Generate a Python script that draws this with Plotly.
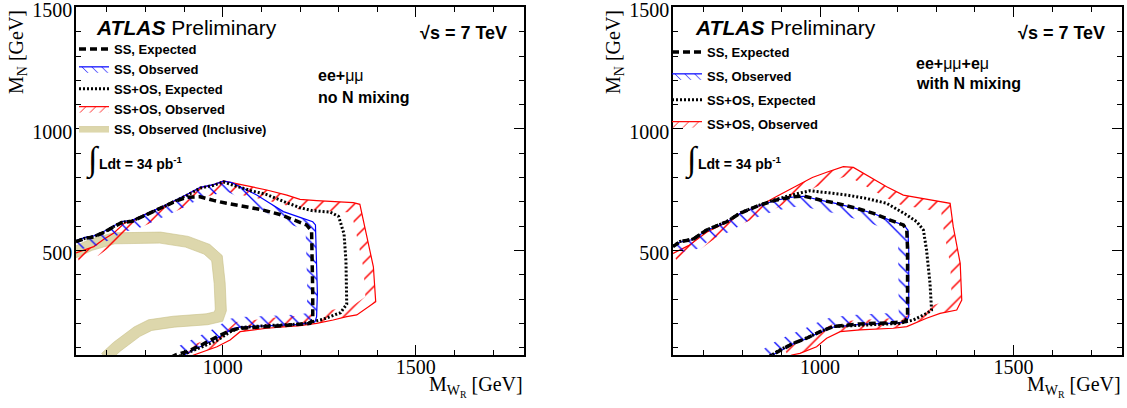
import numpy as np
import plotly.graph_objects as go

FIG_W, FIG_H = 1127, 408
X_RANGE = [620, 1780]
Y_RANGE = [70, 1500.5]
X_TICKS = [1000, 1500]
Y_TICKS = [500, 1000, 1500]

# panel frames in pixels: (left, right, top, bottom)
LEFT_FRAME = (76, 524, 7.3, 355)
RIGHT_FRAME = (673, 1122, 7.3, 355)

# ---------------- Left panel: ee+mumu, no N mixing ----------------
L_SS_EXP_X = [620, 644, 666, 692, 718, 739, 765, 795, 821, 855, 881, 907, 941, 976, 1010, 1071, 1105, 1148, 1190, 1217, 1230, 1232, 1233, 1233, 1226, 1157, 1097, 1045, 1019, 985, 941, 907, 877, 868]
L_SS_EXP_Y = [536, 550, 556, 574, 598, 615, 620, 643, 660, 685, 705, 719, 721, 706, 694, 677, 666, 648, 622, 605, 580, 461, 324, 214, 200, 191, 187, 180, 170, 145, 108, 84, 70, 62]

L_SS_OBS_X = [620, 644, 666, 692, 718, 739, 765, 795, 821, 855, 881, 907, 942, 976, 1002, 1023, 1054, 1088, 1122, 1157, 1200, 1233, 1240, 1243, 1245, 1243, 1239, 1200, 1114, 1045, 1028, 985, 941, 898, 890]
L_SS_OBS_Y = [540, 554, 560, 578, 602, 619, 624, 647, 664, 689, 709, 730, 760, 771, 785, 779, 755, 728, 694, 660, 636, 618, 605, 460, 324, 228, 207, 196, 189, 185, 180, 139, 104, 70, 62]

L_SSOS_EXP_X = [620, 644, 666, 692, 718, 739, 765, 795, 821, 855, 881, 907, 942, 976, 1002, 1016, 1073, 1114, 1160, 1200, 1231, 1278, 1300, 1314, 1319, 1321, 1305, 1258, 1221, 1200, 1114, 1045, 1019, 985, 941, 890, 882]
L_SSOS_EXP_Y = [537, 551, 557, 575, 599, 616, 621, 644, 661, 686, 706, 727, 757, 768, 782, 774, 746, 730, 700, 676, 664, 658, 640, 568, 457, 279, 244, 216, 203, 197, 191, 183, 165, 130, 100, 70, 62]

L_SSOS_OBS_X = [620, 666, 692, 718, 745, 765, 795, 821, 855, 881, 907, 942, 976, 1002, 1054, 1114, 1166, 1200, 1243, 1286, 1338, 1355, 1372, 1390, 1396, 1347, 1321, 1286, 1243, 1200, 1114, 1071, 1045, 1019, 985, 925, 915]
L_SSOS_OBS_Y = [490, 516, 546, 572, 612, 623, 646, 663, 688, 708, 729, 759, 770, 786, 769, 749, 728, 710, 705, 701, 697, 690, 570, 433, 289, 235, 228, 214, 200, 191, 180, 170, 166, 132, 104, 70, 63]

L_INCL_X = [612, 621, 657, 718, 838, 907, 959, 985, 992, 995, 989, 959, 873, 812, 778, 726, 696]
L_INCL_Y = [490, 495, 522, 550, 553, 536, 505, 468, 365, 255, 228, 217, 207, 193, 166, 104, 60]

# ---------------- Right panel: ee+mumu+emu, with N mixing ----------------
R_SS_EXP_X = [620, 638, 672, 707, 759, 793, 845, 888, 931, 957, 1000, 1043, 1095, 1138, 1181, 1215, 1224, 1226, 1226, 1226, 1220, 1189, 1103, 1034, 1000, 965, 931, 897, 875, 868]
R_SS_EXP_Y = [516, 536, 546, 584, 618, 653, 687, 708, 721, 724, 708, 694, 673, 653, 625, 605, 584, 502, 365, 228, 207, 203, 198, 187, 166, 139, 118, 91, 70, 62]

R_SS_OBS_X = [620, 638, 672, 707, 759, 793, 845, 888, 931, 957, 1000, 1043, 1095, 1138, 1181, 1217, 1227, 1229, 1229, 1229, 1222, 1189, 1103, 1034, 1000, 965, 931, 897, 877, 870]
R_SS_OBS_Y = [515, 535, 545, 583, 617, 652, 686, 707, 720, 723, 707, 693, 672, 652, 624, 604, 583, 502, 365, 228, 205, 201, 196, 185, 164, 137, 116, 89, 70, 62]

R_SSOS_EXP_X = [620, 638, 672, 707, 759, 793, 845, 888, 931, 974, 1017, 1069, 1120, 1172, 1224, 1250, 1267, 1275, 1284, 1288, 1275, 1241, 1206, 1103, 1034, 1000, 965, 931, 896, 875, 868]
R_SSOS_EXP_Y = [517, 537, 547, 585, 619, 654, 688, 711, 730, 746, 738, 728, 714, 694, 646, 618, 584, 502, 365, 255, 241, 214, 200, 193, 187, 166, 139, 118, 91, 70, 62]

R_SSOS_OBS_X = [620, 660, 707, 759, 793, 845, 891, 939, 980, 1017, 1060, 1086, 1120, 1172, 1215, 1275, 1336, 1344, 1362, 1366, 1353, 1310, 1275, 1224, 1189, 1103, 1052, 1017, 991, 948, 927, 918]
R_SSOS_OBS_Y = [488, 520, 575, 616, 651, 685, 725, 765, 800, 822, 845, 842, 810, 762, 728, 710, 694, 598, 447, 296, 255, 241, 221, 187, 180, 173, 166, 139, 104, 77, 70, 63]

NAMES = ["<b>SS, Expected</b>", "<b>SS, Observed</b>", "<b>SS+OS, Expected</b>",
         "<b>SS+OS, Observed</b>", "<b>SS, Observed (Inclusive)</b>"]

SANS = "Liberation Sans"
SERIF = "Liberation Serif"
BLUE = "rgb(0,0,255)"
RED = "rgb(255,0,0)"
TAN = "rgb(221,215,172)"


def domains(frame):
    l, r, t, b = frame
    return [l / FIG_W, r / FIG_W], [1 - b / FIG_H, 1 - t / FIG_H]


def offset(xs, ys, frame, w):
    """Offset a polyline by w pixels towards its right-hand (inner) side."""
    l, r, t, b = frame
    sx = (r - l) / (X_RANGE[1] - X_RANGE[0])
    sy = (b - t) / (Y_RANGE[1] - Y_RANGE[0])
    px = (np.asarray(xs, float) - X_RANGE[0]) * sx
    py = -(np.asarray(ys, float) - Y_RANGE[0]) * sy
    d = np.diff(np.c_[px, py], axis=0)
    L = np.hypot(d[:, 0], d[:, 1])
    nrm = np.c_[-d[:, 1] / L, d[:, 0] / L]
    out = []
    n = len(px)
    for i in range(n):
        if i == 0:
            nv, m = nrm[0], 1.0
        elif i == n - 1:
            nv, m = nrm[-1], 1.0
        else:
            s = nrm[i - 1] + nrm[i]
            sl = np.hypot(s[0], s[1])
            if sl < 1e-6:
                nv, m = nrm[i], 1.0
            else:
                nv = s / sl
                m = 1.0 / max(float(np.dot(nv, nrm[i - 1])), 0.5)
        out.append((px[i] + nv[0] * w * m, py[i] + nv[1] * w * m))
    out = np.array(out)
    return X_RANGE[0] + out[:, 0] / sx, Y_RANGE[0] - out[:, 1] / sy


fig = go.Figure()


def pattern(color, shape, size):
    return dict(shape=shape, fgcolor=color, bgcolor="rgba(0,0,0,0)",
                size=size, solidity=0.12, fillmode="replace")


def add_hatched(xs, ys, frame, color, shape, name, rank, xa, ya, leg, size):
    ox, oy = offset(xs, ys, frame, 10)
    # hatched strip on the excluded side of the contour
    fig.add_trace(go.Scatter(x=np.r_[np.asarray(xs, float), ox[::-1]],
                             y=np.r_[np.asarray(ys, float), oy[::-1]],
                             mode="lines", line=dict(width=0, color="rgba(0,0,0,0)"),
                             fill="toself", fillcolor=color, fillpattern=pattern(color, shape, size),
                             showlegend=False, hoverinfo="skip", xaxis=xa, yaxis=ya))
    # contour line
    fig.add_trace(go.Scatter(x=xs, y=ys, mode="lines", line=dict(color=color, width=1.2),
                             showlegend=False, xaxis=xa, yaxis=ya))
    # legend entry (line + hatch)
    fig.add_trace(go.Scatter(x=[None], y=[None], mode="lines", line=dict(color=color, width=1.2),
                             fill="toself", fillcolor=color, fillpattern=pattern(color, shape, 7),
                             name=name, legendrank=rank, legendgroup=name, legend=leg,
                             xaxis=xa, yaxis=ya))


def add_panel(frame, xa, ya, leg, ss_exp, ss_obs, ssos_exp, ssos_obs, incl=None):
    if incl is not None:
        ax, ay = offset(incl[0], incl[1], frame, 5.5)
        bx, by = offset(incl[0], incl[1], frame, -5.5)
        fig.add_trace(go.Scatter(x=np.r_[ax, bx[::-1]], y=np.r_[ay, by[::-1]], mode="lines",
                                 fill="toself", fillcolor=TAN,
                                 line=dict(width=0.6, color="rgb(200,192,135)"),
                                 name=NAMES[4], legendrank=5, legendgroup=NAMES[4], legend=leg,
                                 xaxis=xa, yaxis=ya))
    add_hatched(ssos_obs[0], ssos_obs[1], frame, RED, "/", NAMES[3], 4, xa, ya, leg, 12)
    add_hatched(ss_obs[0], ss_obs[1], frame, BLUE, "\\", NAMES[1], 2, xa, ya, leg, 11)
    fig.add_trace(go.Scatter(x=ssos_exp[0], y=ssos_exp[1], mode="lines",
                             line=dict(color="black", width=3, dash="2px,2px"),
                             name=NAMES[2], legendrank=3, legendgroup=NAMES[2], legend=leg,
                             xaxis=xa, yaxis=ya))
    fig.add_trace(go.Scatter(x=ss_exp[0], y=ss_exp[1], mode="lines",
                             line=dict(color="black", width=3.5, dash="7px,4px"),
                             name=NAMES[0], legendrank=1, legendgroup=NAMES[0], legend=leg,
                             xaxis=xa, yaxis=ya))


add_panel(LEFT_FRAME, "x", "y", "legend",
          (L_SS_EXP_X, L_SS_EXP_Y), (L_SS_OBS_X, L_SS_OBS_Y),
          (L_SSOS_EXP_X, L_SSOS_EXP_Y), (L_SSOS_OBS_X, L_SSOS_OBS_Y),
          (L_INCL_X, L_INCL_Y))
add_panel(RIGHT_FRAME, "x2", "y2", "legend2",
          (R_SS_EXP_X, R_SS_EXP_Y), (R_SS_OBS_X, R_SS_OBS_Y),
          (R_SSOS_EXP_X, R_SSOS_EXP_Y), (R_SSOS_OBS_X, R_SSOS_OBS_Y))


def axis(domain, rng, tickvals, anchor, standoff, shift):
    return dict(domain=domain, range=rng, anchor=anchor, tickvals=tickvals,
                automargin=False, ticklabeloverflow="allow", ticklabelstandoff=standoff,
                ticklabelshift=shift,
                showline=True, linecolor="black", linewidth=1.5, mirror="allticks",
                ticks="inside", ticklen=10, tickwidth=1.2, tickcolor="black",
                showgrid=False, zeroline=False,
                tickfont=dict(family=SERIF, size=20, color="black"),
                minor=dict(dtick=100, tick0=0, ticks="inside", ticklen=5, tickwidth=1.2,
                           tickcolor="black", showgrid=False))


lxd, lyd = domains(LEFT_FRAME)
rxd, ryd = domains(RIGHT_FRAME)


def px(x):
    return x / FIG_W


def py(y):
    return 1 - y / FIG_H


annotations = []


def ann(text, x, y, size, xanchor="left", family=SANS, angle=0):
    annotations.append(dict(text=text, x=px(x), y=py(y), xref="paper", yref="paper",
                            xanchor=xanchor, yanchor="middle", showarrow=False,
                            textangle=angle, font=dict(family=family, size=size, color="black")))


for (atlas_x, sqrt_x, lab_x, lab1, lab2, lab_y1, lab_y2, int_x, ytit_x, frame) in [
        (94, 509, 316, "<b>ee+</b>μμ", "<b>no N mixing</b>", 75, 97, 84, 17, LEFT_FRAME),
        (693, 1107, 914, "<b>ee+</b>μμ<b>+e</b>μ", "<b>with N mixing</b>", 63, 84, 683, 614, RIGHT_FRAME)]:
    ann("<b><i>ATLAS</i></b> Preliminary", atlas_x, 28, 21)
    ann("<b>√s = 7 TeV</b>", sqrt_x, 33, 18, xanchor="right")
    ann(lab1, lab_x, lab_y1, 16)
    ann(lab2, lab_x, lab_y2, 16)
    ann("∫", int_x, 160, 34, family=SERIF)
    ann("<b>Ldt = 34 pb<sup>-1</sup></b>", int_x + 13, 163, 14)
    ann("M<sub>N</sub> [GeV]", ytit_x, 52, 20, xanchor="center", family=SERIF, angle=-90)
    ann("M<sub>W<sub>R</sub></sub> [GeV]", frame[1] + 1, 386, 20, xanchor="right", family=SERIF)

legend_common = dict(xanchor="left", yanchor="top", bgcolor="rgba(0,0,0,0)", borderwidth=0,
                     font=dict(family=SANS, size=13, color="black"), itemwidth=30)

fig.update_layout(
    width=FIG_W, height=FIG_H, margin=dict(l=0, r=0, t=0, b=0, autoexpand=False),
    paper_bgcolor="white", plot_bgcolor="white", showlegend=True,
    xaxis=axis(lxd, X_RANGE, X_TICKS, "y", -7, 0),
    yaxis=axis(lyd, Y_RANGE, Y_TICKS, "x", -2, 3),
    xaxis2=axis(rxd, X_RANGE, X_TICKS, "y2", -7, 0),
    yaxis2=axis(ryd, Y_RANGE, Y_TICKS, "x2", -2, 3),
    legend=dict(x=px(74), y=py(34), tracegroupgap=0, traceorder="normal", **legend_common),
    legend2=dict(x=px(667), y=py(37), tracegroupgap=4, traceorder="grouped", **legend_common),
    annotations=annotations,
)

fig.write_html("out.html", config={"displayModeBar": False},
               post_script="document.body.style.margin='0px';document.body.style.padding='0px';")
